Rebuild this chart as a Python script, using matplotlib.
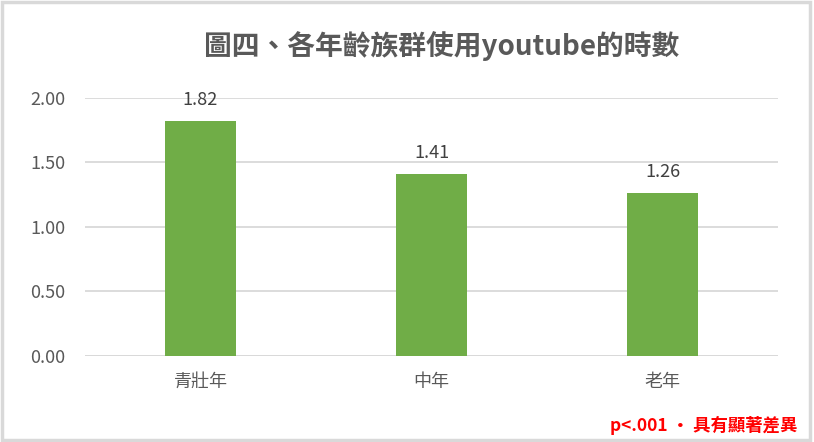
import matplotlib.pyplot as plt
from matplotlib.patches import Rectangle

plt.rcParams['font.family'] = ['Noto Sans CJK TC', 'DejaVu Sans']

categories = ["青壯年", "中年", "老年"]
hours = [1.82, 1.41, 1.26]
yticks = [0.0, 0.5, 1.0, 1.5, 2.0]

TEXT = "#595959"
GREEN = "#70AD47"
GRID = "#D9D9D9"

fig = plt.figure(figsize=(8.14, 4.42), dpi=100)
ax = fig.add_axes([0.1044, 0.1946, 0.8514, 0.5837])

x = range(len(categories))
bars = ax.bar(x, hours, width=0.31, color=GREEN, zorder=3)
for b, v in zip(bars, hours):
    ax.annotate(f"{v:.2f}", (b.get_x() + b.get_width() / 2, v),
                xytext=(0, 9), textcoords="offset points",
                ha="center", va="bottom", fontsize=13, color="#404040")

ax.set_xlim(-0.5, 2.5)
ax.set_ylim(0, 2.0)
ax.set_yticks(yticks)
ax.set_yticklabels([f"{t:.2f}" for t in yticks], fontsize=13, color=TEXT)
ax.set_xticks(list(x))
ax.set_xticklabels(categories, fontsize=13, color=TEXT)
ax.tick_params(axis="both", length=0)
ax.tick_params(axis="x", pad=12)
ax.tick_params(axis="y", pad=14)
ax.grid(axis="y", color=GRID, linewidth=1.3, zorder=0)
for s in ax.spines.values():
    s.set_visible(False)
ax.axhline(0, color=GRID, linewidth=1.3, zorder=2)

fig.text(0.542, 0.897, "圖四、各年齡族群使用youtube的時數", ha="center", va="center",
         fontsize=20, fontweight="bold", color=TEXT)
fig.text(0.979, 0.038, "p<.001 ‧ 具有顯著差異", ha="right", va="center",
         fontsize=12.5, fontweight="bold", color="#FF0000")

fig.add_artist(Rectangle((0.002, 0.004), 0.993, 0.992, transform=fig.transFigure,
                         fill=False, edgecolor=GRID, linewidth=2.5))

fig.savefig("out.png", dpi=100)
